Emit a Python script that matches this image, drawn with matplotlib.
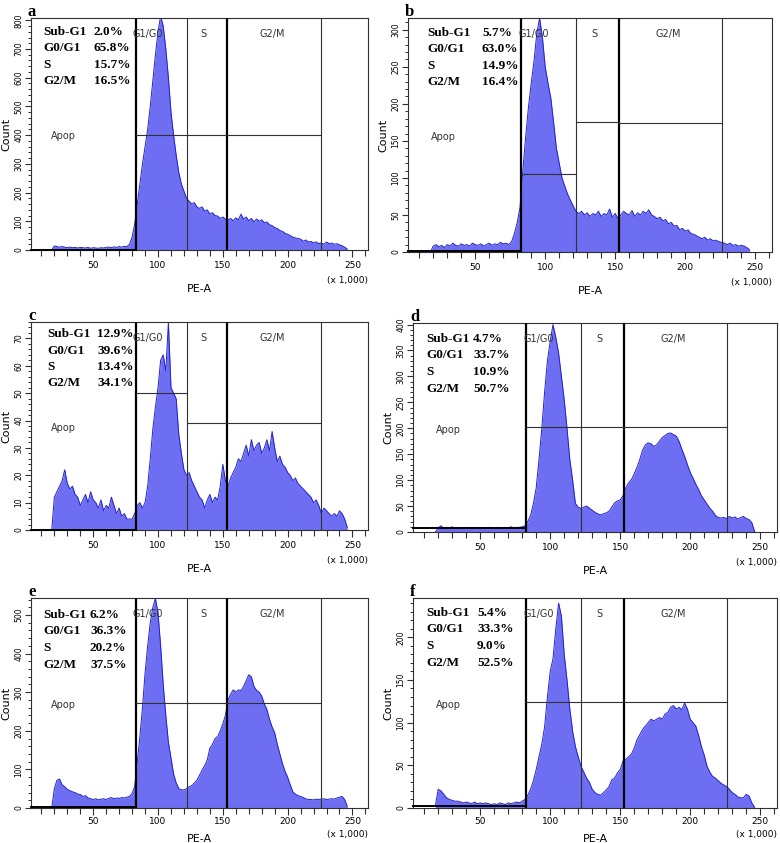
"""
细胞周期流式直方图 (PI 染色, PE-A 通道) —— 6 个样本 a~f
每个面板: 直方图 + 门 (Apop / G1/G0 / S / G2/M) + 各期百分比
"""
import numpy as np
import matplotlib
matplotlib.use('Agg')
import matplotlib.pyplot as plt
from matplotlib.ticker import MultipleLocator

plt.rcParams['font.family'] = ['DejaVu Sans']

# PE-A (x 1,000)，每 2 个单位一个 bin，18 ~ 246
pe_bins = np.arange(18, 247, 2)

count_a = [0, 14, 12, 10, 12, 10, 8, 10, 8, 9,
           7, 9, 8, 7, 9, 6, 8, 7, 6, 8,
           7, 9, 10, 8, 11, 9, 12, 10, 13, 12,
           20, 45, 90, 160, 230, 300, 360, 420, 500, 590,
           680, 760, 815, 780, 700, 600, 480, 400, 330, 270,
           230, 205, 180, 170, 160, 165, 150, 145, 150, 135,
           140, 125, 130, 120, 118, 110, 115, 108, 105, 110,
           102, 112, 105, 125, 108, 115, 102, 110, 98, 108,
           100, 105, 95, 98, 88, 85, 78, 75, 68, 65,
           58, 55, 50, 45, 42, 40, 38, 30, 35, 28,
           30, 25, 28, 22, 25, 20, 28, 22, 24, 20,
           22, 18, 15, 10, 3]
count_b = [0, 8, 10, 7, 9, 6, 10, 8, 12, 9,
           8, 11, 9, 10, 8, 12, 10, 9, 11, 8,
           10, 12, 9, 11, 10, 13, 11, 12, 10, 14,
           25, 40, 60, 110, 155, 195, 228, 258, 295, 316,
           290, 250, 228, 208, 175, 140, 120, 100, 89, 78,
           70, 62, 55, 52, 55, 50, 53, 48, 52, 50,
           55, 48, 52, 50, 58, 47, 52, 45, 50, 55,
           52, 50, 56, 48, 53, 50, 55, 52, 57, 50,
           48, 45, 47, 42, 44, 38, 40, 35, 36, 30,
           32, 28, 30, 25, 24, 22, 20, 18, 20, 16,
           18, 15, 16, 14, 13, 12, 10, 12, 9, 10,
           8, 9, 8, 6, 3]
count_c = [0, 12, 14, 16, 18, 22, 17, 15, 16, 13,
           12, 9, 11, 13, 10, 14, 11, 10, 8, 11,
           7, 9, 8, 12, 9, 6, 8, 5, 6, 4,
           4, 4, 6, 9, 10, 8, 10, 16, 26, 37,
           45, 52, 62, 64, 58, 76, 52, 50, 48, 35,
           28, 22, 20, 21, 18, 16, 14, 12, 11, 8,
           11, 13, 10, 12, 11, 16, 24, 18, 16, 19,
           21, 23, 26, 25, 28, 31, 27, 33, 29, 31,
           32, 28, 30, 33, 29, 36, 30, 25, 27, 24,
           23, 21, 20, 18, 19, 17, 16, 15, 14, 13,
           12, 10, 11, 9, 6, 8, 7, 6, 5, 6,
           5, 7, 6, 4, 1]
count_d = [0, 8, 12, 7, 9, 8, 10, 7, 9, 8,
           7, 9, 8, 7, 8, 9, 7, 8, 7, 9,
           8, 7, 9, 8, 7, 9, 8, 10, 8, 9,
           9, 10, 12, 20, 32, 55, 85, 140, 200, 270,
           330, 368, 400, 375, 345, 300, 255, 200, 140, 100,
           55, 48, 45, 48, 50, 46, 42, 38, 35, 33,
           35, 37, 40, 48, 56, 60, 62, 70, 85, 95,
           101, 112, 125, 140, 158, 168, 172, 170, 165, 168,
           175, 182, 186, 190, 191, 188, 185, 175, 160, 146,
           130, 115, 104, 92, 82, 70, 62, 54, 46, 40,
           32, 28, 27, 28, 26, 30, 27, 29, 25, 28,
           30, 26, 24, 18, 1]
count_e = [0, 50, 72, 75, 60, 55, 48, 45, 42, 40,
           36, 35, 30, 32, 26, 24, 22, 24, 21, 23,
           24, 22, 25, 27, 24, 26, 25, 27, 26, 28,
           30, 38, 56, 120, 185, 260, 350, 420, 480, 520,
           543, 505, 420, 320, 240, 170, 130, 88, 65, 50,
           47, 47, 50, 55, 58, 65, 72, 85, 98, 110,
           125, 155, 165, 180, 185, 200, 218, 240, 280, 295,
           306, 300, 306, 304, 315, 330, 345, 340, 315, 305,
           300, 290, 270, 255, 230, 210, 195, 165, 140, 115,
           95, 80, 60, 42, 36, 32, 30, 27, 24, 22,
           22, 21, 23, 22, 23, 24, 22, 23, 24, 23,
           26, 28, 30, 22, 4]
count_f = [3, 22, 20, 16, 12, 10, 9, 8, 8, 7,
           6, 7, 6, 5, 7, 5, 6, 5, 6, 5,
           4, 5, 4, 6, 5, 4, 6, 5, 6, 7,
           6, 8, 10, 15, 22, 32, 45, 60, 75, 95,
           130, 160, 175, 210, 240, 225, 180, 150, 116, 90,
           72, 60, 49, 42, 35, 30, 22, 18, 16, 15,
           18, 21, 25, 33, 35, 41, 45, 55, 57, 60,
           63, 70, 80, 86, 92, 96, 100, 104, 102, 104,
           106, 104, 110, 112, 118, 120, 116, 118, 115, 123,
           116, 104, 100, 96, 85, 72, 62, 49, 42, 37,
           35, 32, 29, 27, 25, 22, 18, 16, 13, 12,
           12, 16, 14, 6, 1]
counts = [count_a, count_b, count_c, count_d, count_e, count_f]

panel_letters = ['a', 'b', 'c', 'd', 'e', 'f']
sub_g1 = ['2.0%', '5.7%', '12.9%', '4.7%', '6.2%', '5.4%']
g0_g1 = ['65.8%', '63.0%', '39.6%', '33.7%', '36.3%', '33.3%']
s_phase = ['15.7%', '14.9%', '13.4%', '10.9%', '20.2%', '9.0%']
g2_m = ['16.5%', '16.4%', '34.1%', '50.7%', '37.5%', '52.5%']
phase_names = ['Sub-G1', 'G0/G1', 'S', 'G2/M']

y_max = [808, 316, 76, 403, 544, 246]
y_step = [100, 50, 10, 50, 100, 50]

# 门: 竖线位置 (粗线 = 83, 153)，横线 (x0, x1, y)
gates = [83, 122, 153, 226]
h_marks = [
    [(83, 226, 400)],
    [(83, 122, 105), (122, 153, 176), (153, 226, 174)],
    [(83, 122, 50), (122, 226, 39)],
    [(83, 226, 202)],
    [(83, 226, 271)],
    [(83, 226, 124)],
]
apop_floor = [0, 2, 0, 7, 2.5, 2.7]

W, H = 780, 843
# 每个面板的像素框 (left, top, right, bottom)
boxes = [(31, 18, 368, 250), (408, 18, 772, 252),
         (31, 322, 368, 530), (413, 323, 777, 532),
         (31, 598, 368, 808), (413, 598, 777, 808)]
# 百分比文字偏移 (标签 dx, 数值 dx, 第一行 dy)，像素
stat_pos = [(12, 63, 14), (19, 74, 15), (16, 66, 12),
            (13, 60, 16), (12, 59, 17), (13, 64, 15)]
xlabel_off = [34, 34, 34, 34, 26, 26]

FILL = '#6e6ef2'
EDGE = '#2222c8'
LINE = '#303030'


def draw_panel(fig, i):
    l, t, r, b = boxes[i]
    ax = fig.add_axes([l / W, 1 - b / H, (r - l) / W, (b - t) / H])
    ah = b - t

    ax.fill_between(pe_bins, counts[i], color=FILL, lw=0, zorder=1)
    ax.plot(pe_bins, counts[i], color=EDGE, lw=0.7, zorder=2)

    # 门
    for g in gates:
        thick = g in (83, 153)
        ax.axvline(g, color='black' if thick else LINE,
                   lw=1.6 if thick else 0.8, zorder=3)
    for x0, x1, y in h_marks[i]:
        ax.plot([x0, x1], [y, y], color=LINE, lw=0.8, zorder=3)
    ax.plot([2, 83], [apop_floor[i], apop_floor[i]], color='black', lw=1.4,
            zorder=3, clip_on=False)

    ax.set_xlim(2, 262)
    ax.set_ylim(0, y_max[i])

    # 刻度
    ax.xaxis.set_major_locator(MultipleLocator(50))
    ax.xaxis.set_minor_locator(MultipleLocator(10))
    ax.yaxis.set_major_locator(MultipleLocator(y_step[i]))
    ax.yaxis.set_minor_locator(MultipleLocator(y_step[i] / 5))
    ax.tick_params(axis='x', which='major', length=5, width=0.8, labelsize=6.5,
                   pad=3 if i < 4 else 1.5, color=LINE)
    ax.tick_params(axis='x', which='minor', length=4, width=0.8, color=LINE)
    ax.tick_params(axis='y', which='major', length=4.5, width=0.8, labelsize=5.5,
                   pad=1, labelrotation=90, color=LINE)
    ax.tick_params(axis='y', which='minor', length=2.5, width=0.7, color=LINE)
    for lab in ax.get_yticklabels():
        lab.set_va('center')
    for s in ax.spines.values():
        s.set_color(LINE)
        s.set_linewidth(0.8)

    ax.set_ylabel('Count', fontsize=8)
    ax.yaxis.set_label_coords(-20 / (r - l), 0.5)
    ax.set_xlabel('PE-A', fontsize=8)
    ax.xaxis.set_label_coords(0.5, -xlabel_off[i] / ah)
    ax.annotate('(x 1,000)', xy=(1, 0), xycoords='axes fraction',
                xytext=(0, -xlabel_off[i] + (3 if i < 4 else 0)),
                textcoords='offset pixels',
                ha='right', va='center', fontsize=6.5)

    # 门名称
    for xg, name in zip([92, 135, 188], ['G1/G0', 'S', 'G2/M']):
        ax.annotate(name, xy=(xg, 1), xycoords=('data', 'axes fraction'),
                    xytext=(0, -16), textcoords='offset pixels',
                    ha='center', va='center', fontsize=7, color='#333333')
    ax.text(27, 0.49 * y_max[i], 'Apop', ha='center', va='center',
            fontsize=7, color='#333333')

    # 各期百分比
    dx_l, dx_v, dy0 = stat_pos[i]
    vals = [sub_g1[i], g0_g1[i], s_phase[i], g2_m[i]]
    for k, (nm, v) in enumerate(zip(phase_names, vals)):
        dy = -(dy0 + k * 16.5)
        for dx, txt in ((dx_l, nm), (dx_v, v)):
            ax.annotate(txt, xy=(0, 1), xycoords='axes fraction',
                        xytext=(dx, dy), textcoords='offset pixels',
                        ha='left', va='center', fontsize=9.5,
                        fontweight='bold', family='Liberation Serif')

    # 面板字母
    ax.annotate(panel_letters[i], xy=(0, 1), xycoords='axes fraction',
                xytext=(-3, 2), textcoords='offset pixels',
                ha='left', va='baseline', fontsize=12, fontweight='bold',
                family='Liberation Serif')
    return ax


def main():
    fig = plt.figure(figsize=(W / 100, H / 100), dpi=100)
    for i in range(6):
        draw_panel(fig, i)
    fig.savefig('out.png', dpi=100)
    plt.close(fig)


if __name__ == '__main__':
    main()
